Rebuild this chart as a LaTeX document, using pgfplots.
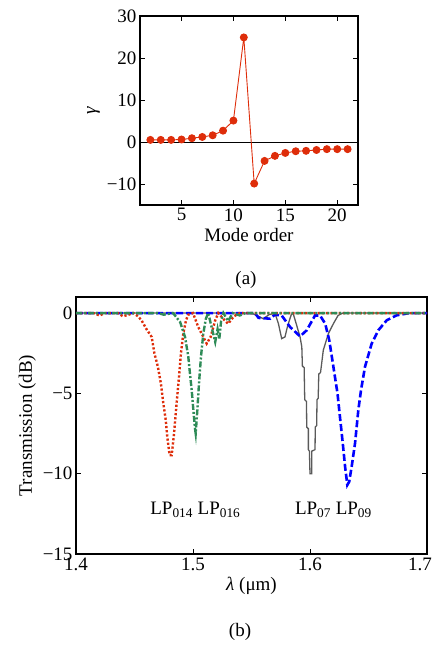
\documentclass[border=0pt]{standalone}
\usepackage{fontspec}
\setmainfont{Liberation Serif}
\usepackage{pgfplots}
\pgfplotsset{compat=1.18}
\definecolor{gred}{RGB}{222,45,10}
\definecolor{tgreen}{RGB}{46,139,87}
\definecolor{tgray}{RGB}{90,90,90}
\definecolor{tblue}{RGB}{0,0,255}
\newcommand{\figfont}{\rmfamily\fontsize{19}{22}\selectfont}
\pgfplotsset{
  figaxis/.style={
    scale only axis,
    axis line style={line width=1.2pt},
    tick style={line width=0.9pt, black},
    major tick length=5pt,
    tick label style={font=\figfont},
    label style={font=\figfont},
  }
}

\begin{document}
\begin{tikzpicture}[font=\figfont]
\useasboundingbox (0,0) rectangle (432pt,-646pt);

% (a) gamma vs mode order
\begin{axis}[figaxis,
  at={(140pt,-16pt)}, anchor=north west,
  width=218pt, height=189pt,
  xmin=1, xmax=22, ymin=-15, ymax=30,
  xtick={5,10,15,20}, xticklabels={5,10,15,20},
  ytick={-10,0,10,20,30}, yticklabels={−10,0,10,20,30},
  xlabel={Mode order}, ylabel={\textit{γ}},
]
  \addplot[black, line width=0.8pt, forget plot] coordinates {(1,0) (22,0)};
  \addplot[gred, line width=0.9pt, mark=*, mark size=3.5pt] coordinates {
    (2,0.5) (3,0.5) (4,0.5) (5,0.6) (6,0.9) (7,1.2) (8,1.6) (9,2.7) (10,5.1)
    (11,24.9) (12,-9.9) (13,-4.5) (14,-3.3) (15,-2.6) (16,-2.2) (17,-2.1)
    (18,-1.9) (19,-1.7) (20,-1.7) (21,-1.7)
  };
\end{axis}
\node at (246pt,-280pt) {(a)};

% (b) transmission spectra
\begin{axis}[figaxis,
  at={(76pt,-297pt)}, anchor=north west,
  width=351pt, height=257pt,
  xmin=1.4, xmax=1.7, ymin=-15, ymax=1,
  xtick={1.4,1.5,1.6,1.7}, xticklabels={1.4,1.5,1.6,\hspace*{-14pt}1.7},
  ytick={-15,-10,-5,0}, yticklabels={−15,−10,−5,0},
  xlabel={\textit{λ} (μm)}, ylabel={Transmission (dB)},
]
  % LP07
  \addplot[tgray, line width=1.3pt] coordinates {
    (1.400,0) (1.550,0) (1.5545,-0.15) (1.560,-0.35) (1.565,-0.1) (1.570,0)
    (1.573,-0.66) (1.5758,-1.59) (1.5786,-1.49) (1.581,-0.76) (1.584,-0.1)
    (1.5855,0) (1.5886,-0.76) (1.5915,-1.49) (1.593,-2.1) (1.5935,-3.3)
    (1.595,-3.4) (1.5955,-5.4) (1.597,-5.5) (1.5972,-7.1) (1.5986,-7.2)
    (1.5986,-8.5) (1.5995,-8.6) (1.600,-10.0) (1.6015,-10.0) (1.6015,-8.6)
    (1.6043,-8.5) (1.6045,-7.1) (1.6057,-7.0) (1.606,-5.4) (1.607,-5.3)
    (1.6075,-3.8) (1.609,-3.7) (1.6114,-2.3) (1.6157,-1.28) (1.620,-0.66)
    (1.624,-0.15) (1.628,0) (1.700,0)
  };
  % LP09
  \addplot[tblue, line width=2.6pt, dash pattern=on 7pt off 3pt] coordinates {
    (1.400,0) (1.553,0) (1.556,-0.3) (1.566,-0.35) (1.570,-0.1) (1.5758,-0.15)
    (1.583,-0.87) (1.5915,-1.45) (1.5972,-1.07) (1.6043,-0.15) (1.6086,-0.15)
    (1.613,-0.66) (1.6165,-1.7) (1.620,-3.35) (1.6235,-5.0) (1.6256,-6.46)
    (1.628,-8.1) (1.630,-9.57) (1.6319,-10.7) (1.6335,-10.5) (1.6356,-9.57)
    (1.6385,-8.1) (1.6413,-6.04) (1.6436,-4.8) (1.647,-3.35) (1.6527,-1.9)
    (1.6584,-1.07) (1.6656,-0.45) (1.674,-0.14) (1.685,0) (1.700,0)
  };
  % LP014
  \addplot[gred, line width=2.4pt, dash pattern=on 2.2pt off 2pt] coordinates {
    (1.400,0) (1.415,0) (1.420,-0.15) (1.425,0) (1.436,0) (1.440,-0.2)
    (1.445,-0.1) (1.449,0) (1.453,-0.2) (1.456,-0.45) (1.460,-0.97)
    (1.4647,-1.49) (1.467,-2.5) (1.470,-3.35) (1.4726,-4.4) (1.4746,-5.6)
    (1.4767,-6.66) (1.478,-7.7) (1.480,-8.84) (1.4818,-8.84) (1.4838,-7.5)
    (1.486,-5.6) (1.488,-4.0) (1.4897,-2.5) (1.4917,-1.28) (1.494,-0.45)
    (1.496,-0.1) (1.500,0) (1.5045,-0.87) (1.5074,-1.28) (1.5117,-1.9)
    (1.515,-1.5) (1.519,-0.45) (1.5216,0) (1.527,-0.45) (1.530,-0.66)
    (1.535,-0.2) (1.540,0) (1.700,0)
  };
  % LP016
  \addplot[tgreen, line width=2.4pt, dash pattern=on 6pt off 2pt on 2pt off 2pt] coordinates {
    (1.400,0) (1.470,0) (1.475,-0.1) (1.483,0) (1.489,-0.56) (1.4932,-1.49)
    (1.496,-2.73) (1.4974,-3.76) (1.4989,-4.8) (1.5003,-6.04) (1.5017,-7.18)
    (1.5023,-7.5) (1.5037,-6.04) (1.5051,-4.4) (1.5068,-2.73) (1.5088,-1.28)
    (1.511,-0.35) (1.513,0) (1.514,-0.3) (1.517,-1.2) (1.519,-1.8)
    (1.521,-1.0) (1.5225,-1.6) (1.524,-0.5) (1.526,0) (1.530,-0.5)
    (1.534,0) (1.540,-0.15) (1.545,0) (1.700,0)
  };
  \node at (axis cs:1.502,-12.25) {LP\textsubscript{014} LP\textsubscript{016}};
  \node at (axis cs:1.62,-12.25) {LP\textsubscript{07} LP\textsubscript{09}};
\end{axis}
\node at (240pt,-632pt) {(b)};
\end{tikzpicture}
\end{document}
